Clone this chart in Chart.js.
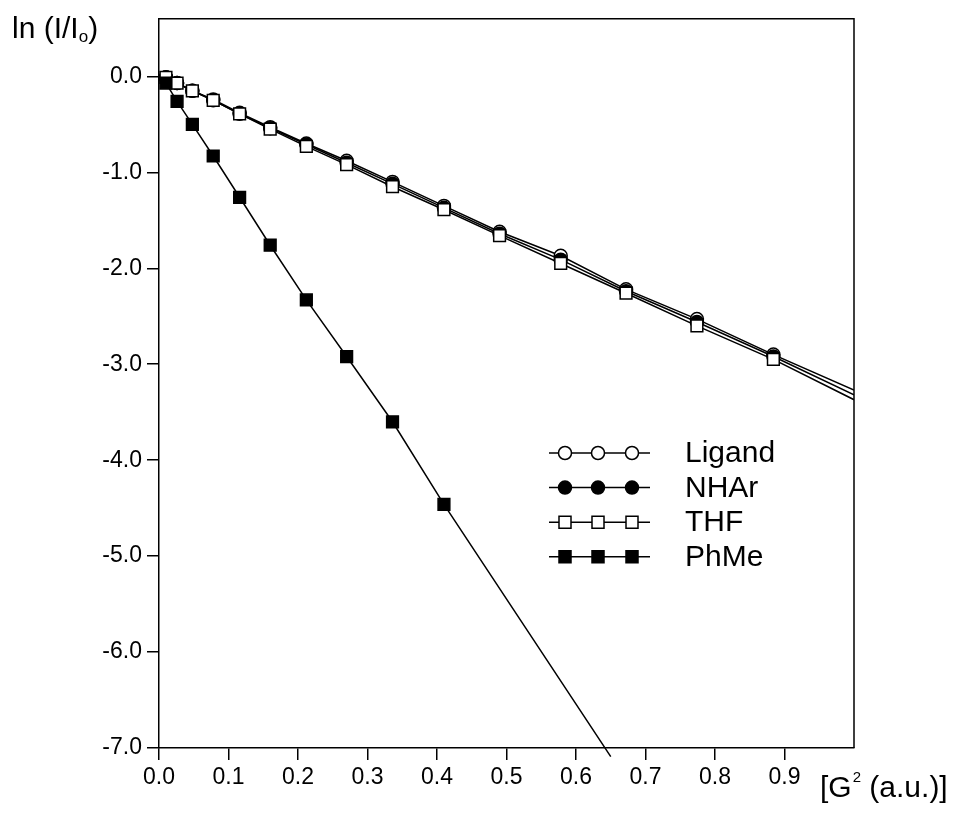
<!DOCTYPE html>
<html>
<head>
<meta charset="utf-8">
<script src="https://cdn.jsdelivr.net/npm/chart.js@4.4.1/dist/chart.umd.min.js"></script>
<style>
  html, body { margin: 0; padding: 0; background: #fff; }
  canvas { display: block; }
</style>
</head>
<body>
<canvas id="chart" width="954" height="825"></canvas>
<script>
// G^2 values (a.u.) shared by all series
const g2 = [0.010, 0.026, 0.048, 0.078, 0.116, 0.160, 0.212, 0.270, 0.336, 0.410, 0.490, 0.578, 0.672, 0.774, 0.884];

// ln(I/Io)
const ligand = [-0.01, -0.07, -0.15, -0.24, -0.38, -0.53, -0.70, -0.88, -1.10, -1.35, -1.62, -1.87, -2.22, -2.53, -2.90];
const nhar   = [-0.01, -0.07, -0.15, -0.25, -0.39, -0.54, -0.71, -0.90, -1.12, -1.37, -1.64, -1.91, -2.24, -2.56, -2.92];
const thf    = [-0.01, -0.07, -0.15, -0.25, -0.39, -0.55, -0.73, -0.92, -1.15, -1.39, -1.66, -1.95, -2.26, -2.60, -2.95];
const phme   = [-0.07, -0.26, -0.50, -0.83, -1.26, -1.76, -2.33, -2.92, -3.60, -4.46];

// where each drawn line runs out past its last point
const endX = [1.0, 1.0, 1.0, 0.650];
const endY = [-3.27, -3.32, -3.37, -7.09];

const seriesNames = ['Ligand', 'NHAr', 'THF', 'PhMe'];
const xTicks = [0.0, 0.1, 0.2, 0.3, 0.4, 0.5, 0.6, 0.7, 0.8, 0.9];
const yTicks = [0, -1, -2, -3, -4, -5, -6, -7];

const FONT = "'Liberation Sans', Arial, sans-serif";

const series = [ligand, nhar, thf, phme];
const styles = [
  { pointStyle: 'circle', fill: '#fff', radius: 6.5 },
  { pointStyle: 'circle', fill: '#000', radius: 6.5 },
  { pointStyle: 'rect',   fill: '#fff', radius: 8.3 },
  { pointStyle: 'rect',   fill: '#000', radius: 8.3 }
];

const datasets = series.map((vals, i) => {
  const pts = vals.map((v, j) => ({ x: g2[j], y: v }));
  pts.push({ x: endX[i], y: endY[i] });
  const radii = vals.map(() => styles[i].radius);
  radii.push(0);
  return {
    label: seriesNames[i],
    data: pts,
    borderColor: '#000',
    borderWidth: 1.5,
    pointStyle: styles[i].pointStyle,
    pointRadius: radii,
    pointBackgroundColor: styles[i].fill,
    pointBorderColor: '#000',
    pointBorderWidth: 1.5,
    tension: 0,
    clip: i === 3 ? false : undefined,
    order: 4 - i
  };
});

// frame, axis titles and the marker legend
const decor = {
  id: 'decor',
  afterDraw(chart) {
    const ctx = chart.ctx;
    const a = chart.chartArea;
    ctx.save();
    ctx.strokeStyle = '#000';
    ctx.lineWidth = 1.5;
    ctx.beginPath();
    ctx.moveTo(a.left, a.top);
    ctx.lineTo(a.right, a.top);
    ctx.lineTo(a.right, a.bottom);
    ctx.stroke();

    ctx.fillStyle = '#000';
    ctx.textBaseline = 'alphabetic';
    // y title: ln (I/Io)
    let x = 12, y = 38;
    ctx.font = '30px ' + FONT;
    ctx.fillText('ln (I/I', x, y);
    x += ctx.measureText('ln (I/I').width;
    ctx.font = '17px ' + FONT;
    ctx.fillText('o', x, y + 4);
    x += ctx.measureText('o').width;
    ctx.font = '30px ' + FONT;
    ctx.fillText(')', x, y);

    // x title: [G2 (a.u.)]
    x = 820; y = 797;
    ctx.font = '30px ' + FONT;
    ctx.fillText('[G', x, y);
    x += ctx.measureText('[G').width;
    ctx.font = '15px ' + FONT;
    ctx.fillText('2', x + 1, y - 15);
    x += ctx.measureText('2').width + 1;
    ctx.font = '30px ' + FONT;
    ctx.fillText(' (a.u.)]', x, y);

    // legend
    const rowY0 = 453, rowGap = 34.6;
    ctx.font = '30px ' + FONT;
    ctx.textBaseline = 'middle';
    chart.data.datasets.forEach((ds, i) => {
      const ry = rowY0 + i * rowGap;
      ctx.lineWidth = 1.5;
      ctx.strokeStyle = '#000';
      ctx.beginPath();
      ctx.moveTo(549, ry);
      ctx.lineTo(650, ry);
      ctx.stroke();
      [565, 598, 632].forEach(mx => {
        ctx.beginPath();
        if (styles[i].pointStyle === 'circle') {
          ctx.arc(mx, ry, 6.5, 0, Math.PI * 2);
        } else {
          ctx.rect(mx - 6, ry - 6, 12, 12);
        }
        ctx.fillStyle = styles[i].fill;
        ctx.fill();
        ctx.stroke();
      });
      ctx.fillStyle = '#000';
      ctx.fillText(ds.label, 685, ry + 1);
    });
    ctx.restore();
  }
};

new Chart(document.getElementById('chart'), {
  type: 'line',
  data: { datasets },
  options: {
    responsive: false,
    animation: false,
    events: [],
    layout: { padding: { left: 0, top: 16, right: 100, bottom: 0 } },
    plugins: { legend: { display: false }, tooltip: { enabled: false } },
    scales: {
      x: {
        type: 'linear',
        min: 0,
        max: 1.0,
        afterBuildTicks: s => { s.ticks = xTicks.map(v => ({ value: v })); },
        afterFit: s => { s.height = 77; },
        grid: { drawOnChartArea: false, color: '#000', lineWidth: 1.5, tickLength: 12 },
        border: { color: '#000', width: 1.5 },
        ticks: {
          color: '#000',
          font: { family: FONT, size: 23 },
          padding: 4,
          maxRotation: 0,
          autoSkip: false,
          callback: v => Number(v).toFixed(1)
        }
      },
      y: {
        type: 'linear',
        min: -7,
        max: 0.6,
        afterBuildTicks: s => { s.ticks = yTicks.map(v => ({ value: v })); },
        afterFit: s => { s.width = 159; },
        grid: { drawOnChartArea: false, color: '#000', lineWidth: 1.5, tickLength: 12 },
        border: { color: '#000', width: 1.5 },
        ticks: {
          color: '#000',
          font: { family: FONT, size: 23 },
          padding: 5,
          autoSkip: false,
          callback: v => Number(v).toFixed(1)
        }
      }
    }
  },
  plugins: [decor]
});
</script>
</body>
</html>
